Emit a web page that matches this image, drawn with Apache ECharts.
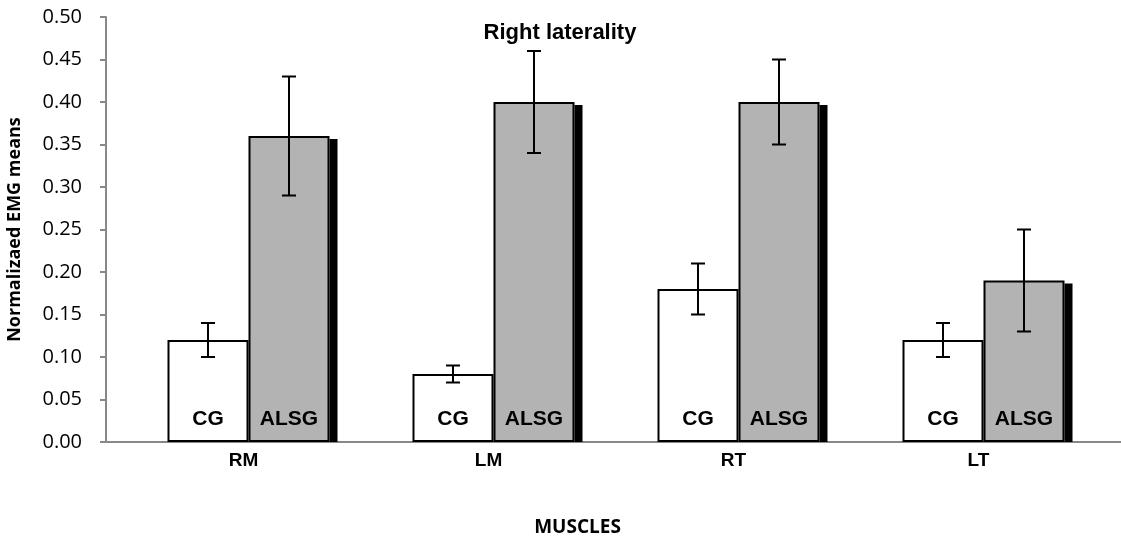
<!DOCTYPE html>
<html>
<head>
<meta charset="utf-8">
<script src="https://cdn.jsdelivr.net/npm/echarts@6/dist/echarts.min.js"></script>
<style>
  html, body { margin: 0; padding: 0; background: #fff; }
  #chart { width: 1121px; height: 542px; }
</style>
</head>
<body>
<div id="chart"></div>
<script>
// data
const muscles = ['RM', 'LM', 'RT', 'LT']
const cgMeans = [0.12, 0.08, 0.18, 0.12]
const cgLow = [0.10, 0.07, 0.15, 0.10]
const cgHigh = [0.14, 0.09, 0.21, 0.14]
const alsgMeans = [0.36, 0.40, 0.40, 0.19]
const alsgLow = [0.29, 0.34, 0.35, 0.13]
const alsgHigh = [0.43, 0.46, 0.45, 0.25]
const yTicks = [0, 0.05, 0.1, 0.15, 0.2, 0.25, 0.3, 0.35, 0.4, 0.45, 0.5]

const barW = 81

let myChart = echarts.init(document.getElementById('chart'))

// error bars: [category index, low, high]
function errData(low, high) {
  return muscles.map((m, i) => [i, low[i], high[i]])
}
function errRender(shift) {
  return function (params, api) {
    let x = api.coord([api.value(0), 0])[0] + shift
    let top = api.coord([api.value(0), api.value(2)])[1]
    let bot = api.coord([api.value(0), api.value(1)])[1]
    let st = { stroke: '#000', lineWidth: 2 }
    return {
      type: 'group',
      children: [
        { type: 'line', shape: { x1: x, y1: top, x2: x, y2: bot }, style: st },
        { type: 'line', shape: { x1: x - 7, y1: top, x2: x + 7, y2: top }, style: st },
        { type: 'line', shape: { x1: x - 7, y1: bot, x2: x + 7, y2: bot }, style: st }
      ]
    }
  }
}

// thick dark shadow on the right side of the ALSG bars
function shadowRender(params, api) {
  let xr = api.coord([api.value(0), 0])[0] + barW
  let top = api.coord([api.value(0), api.value(1)])[1] + 3
  let bot = api.coord([api.value(0), 0])[1]
  return {
    type: 'rect',
    shape: { x: xr, y: top, width: 8, height: bot - top },
    style: { fill: '#000' }
  }
}

let option = {
  animation: false,
  title: {
    text: 'Right laterality',
    left: 555,
    top: 17,
    textAlign: 'center',
    textStyle: { fontFamily: 'Liberation Sans', fontWeight: 'bold', fontSize: 22, color: '#000' }
  },
  grid: [
    // axes grid
    { left: 106, right: 0, top: 17, bottom: 100, outerBoundsMode: 'none' },
    // bars grid
    { left: 126, width: 980, top: 17, bottom: 100, outerBoundsMode: 'none' }
  ],
  xAxis: [
    {
      gridIndex: 0,
      type: 'category',
      data: muscles,
      axisLine: { lineStyle: { color: '#888', width: 2 } },
      axisTick: { show: false },
      axisLabel: { show: false },
      name: 'MUSCLES',
      nameLocation: 'middle',
      nameGap: 76,
      nameTextStyle: { fontFamily: 'Open Sans', fontWeight: 'bold', fontSize: 19, color: '#000', padding: [0, 72, 0, 0] }
    },
    {
      gridIndex: 1,
      type: 'category',
      data: muscles,
      axisLine: { show: false },
      axisTick: { show: false },
      axisLabel: {
        margin: 9,
        padding: [0, 10, 0, 0],
        fontFamily: 'Liberation Sans',
        fontWeight: 'bold',
        fontSize: 19,
        color: '#000'
      }
    }
  ],
  yAxis: [
    {
      gridIndex: 0,
      type: 'value',
      min: 0,
      max: 0.5,
      interval: 0.05,
      name: 'Normalizaed EMG means',
      nameLocation: 'middle',
      nameGap: 82,
      nameTextStyle: { fontFamily: 'Open Sans', fontWeight: 'bold', fontSize: 18, color: '#000' },
      axisLine: { show: true, lineStyle: { color: '#888', width: 2 } },
      axisTick: { show: true, length: 6, lineStyle: { color: '#888', width: 2 } },
      splitLine: { show: false },
      axisLabel: {
        margin: 24,
        fontFamily: 'Open Sans',
        fontSize: 20,
        color: '#000',
        formatter: function (v) {
          return yTicks.indexOf(Math.round(v * 100) / 100) >= 0 ? v.toFixed(2) : ''
        }
      }
    },
    {
      gridIndex: 1,
      type: 'value',
      min: 0,
      max: 0.5,
      interval: 0.05,
      show: false,
      splitLine: { show: false }
    }
  ],
  series: [
    {
      name: 'CG',
      type: 'bar',
      xAxisIndex: 1,
      yAxisIndex: 1,
      data: cgMeans,
      barWidth: barW,
      barGap: '0%',
      itemStyle: { color: '#fff', borderColor: '#000', borderWidth: 2 },
      label: {
        show: true,
        position: 'insideBottom',
        distance: 12,
        formatter: 'CG',
        fontFamily: 'Liberation Sans',
        fontWeight: 'bold',
        fontSize: 21,
        color: '#000'
      }
    },
    {
      name: 'ALSG',
      type: 'bar',
      xAxisIndex: 1,
      yAxisIndex: 1,
      data: alsgMeans,
      barWidth: barW,
      barGap: '0%',
      itemStyle: { color: '#b3b3b3', borderColor: '#000', borderWidth: 2 },
      label: {
        show: true,
        position: 'insideBottom',
        distance: 12,
        formatter: 'ALSG',
        fontFamily: 'Liberation Sans',
        fontWeight: 'bold',
        fontSize: 21,
        color: '#000'
      }
    },
    {
      name: 'ALSG shadow',
      type: 'custom',
      xAxisIndex: 1,
      yAxisIndex: 1,
      data: muscles.map((m, i) => [i, alsgMeans[i]]),
      renderItem: shadowRender,
      z: 1
    },
    {
      name: 'CG err',
      type: 'custom',
      xAxisIndex: 1,
      yAxisIndex: 1,
      data: errData(cgLow, cgHigh),
      renderItem: errRender(-barW / 2),
      z: 5
    },
    {
      name: 'ALSG err',
      type: 'custom',
      xAxisIndex: 1,
      yAxisIndex: 1,
      data: errData(alsgLow, alsgHigh),
      renderItem: errRender(barW / 2),
      z: 5
    }
  ]
}

myChart.setOption(option)
window.addEventListener('resize', function () {
  myChart.resize()
})
</script>
</body>
</html>
